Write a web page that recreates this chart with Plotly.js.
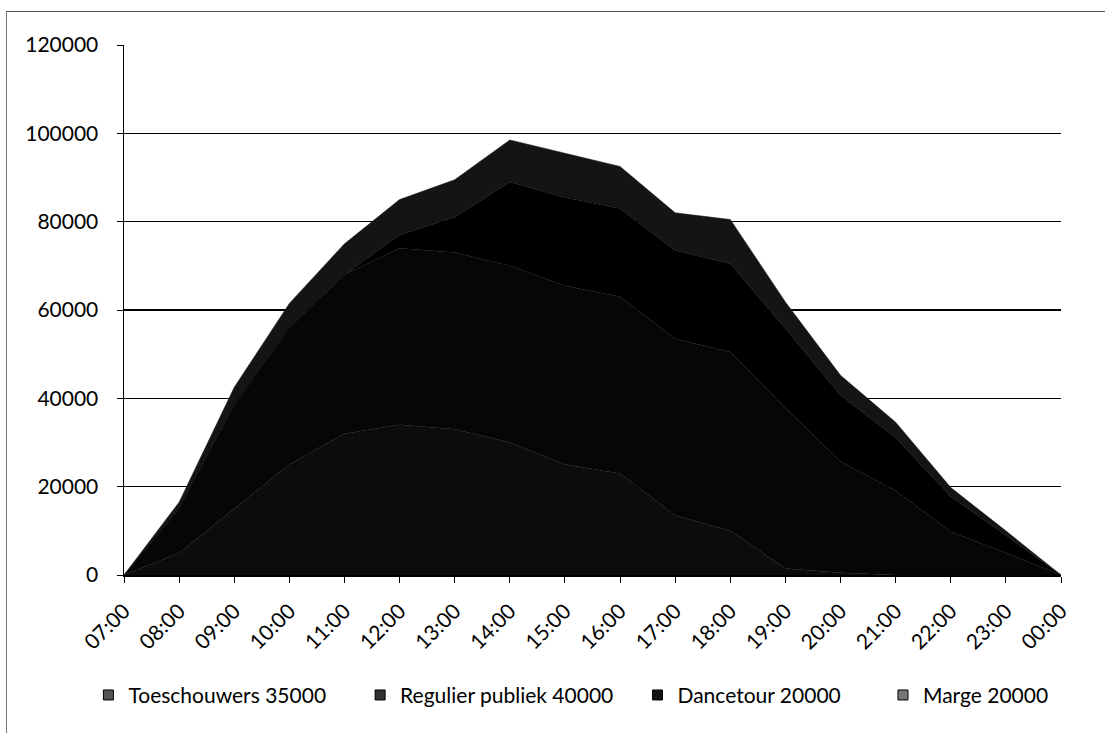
<!DOCTYPE html>
<html>
<head>
<meta charset="utf-8">
<script src="https://cdn.plot.ly/plotly-3.0.1.min.js"></script>
<style>
  html, body { margin: 0; padding: 0; background: #fff; }
  #wrap { position: relative; width: 1105px; height: 733px; }
  #chart { width: 1105px; height: 733px; }
  #frame { position: absolute; left: 6px; top: 11px; right: 0; bottom: 0;
           border-top: 1px solid #555; border-left: 1px solid #777; pointer-events: none; }
</style>
</head>
<body>
<div id="wrap">
  <div id="chart"></div>
  <div id="frame"></div>
</div>
<script>
const hours = ["07:00","08:00","09:00","10:00","11:00","12:00","13:00","14:00","15:00",
               "16:00","17:00","18:00","19:00","20:00","21:00","22:00","23:00","00:00"];
const toeschouwers = [0,5000,15000,25000,32000,34000,33000,30000,25000,23000,13500,10000,1500,500,0,0,0,0];
const regulierPubliek = [0,10000,23500,31000,36000,40000,40000,40000,40500,40000,40000,40500,36300,25200,19100,9800,5000,0];
const dancetour = [0,0,0,0,0,3000,8000,19000,20000,20000,20000,20000,18000,15000,12000,8000,4000,0];
const marge = [0,1500,4000,5500,7000,8000,8500,9500,10000,9500,8500,10000,6000,4500,3500,2000,1000,0];

const seriesNames = ["Toeschouwers 35000","Regulier publiek 40000","Dancetour 20000","Marge 20000"];
const seriesValues = [toeschouwers, regulierPubliek, dancetour, marge];
const seriesColors = ["#0c0c0c","#060606","#000000","#141414"];
const legendColors = ["#555555","#333333","#111111","#777777"];
const legendIds = ["legend","legend2","legend3","legend4"];
const legendX = [-0.038, 0.252, 0.548, 0.810];

const traces = seriesValues.map((vals, i) => ({
  type: "scatter",
  mode: "lines",
  x: hours,
  y: vals,
  name: seriesNames[i],
  stackgroup: "one",
  fillcolor: seriesColors[i],
  line: { color: seriesColors[i], width: 0.5 },
  showlegend: false,
  legendgroup: "g" + i
}));

// legend entries with small square keys, as in the reference
seriesNames.forEach((nm, i) => {
  traces.push({
    type: "scatter",
    mode: "markers",
    x: [null],
    y: [null],
    name: nm,
    legend: legendIds[i],
    legendgroup: "g" + i,
    marker: { symbol: "square", size: 10, color: legendColors[i], line: { color: "#000", width: 1 } },
    showlegend: true
  });
});

const fam = "Lato, 'Open Sans', sans-serif";
const font = { family: fam, size: 21, color: "#000" };

const layout = {
  width: 1105,
  height: 733,
  margin: { l: 124, r: 44, t: 45, b: 158 },
  paper_bgcolor: "#fff",
  plot_bgcolor: "#fff",
  font: font,
  showlegend: true,
  xaxis: {
    type: "category",
    range: [0, hours.length - 1],
    showgrid: false,
    showline: true,
    linecolor: "#000",
    linewidth: 1.5,
    ticks: "outside",
    ticklen: 6,
    tickcolor: "#000",
    tickangle: -45,
    tickfont: { family: fam, size: 21, color: "#000" },
    ticklabelstandoff: 8,
    zeroline: false
  },
  yaxis: {
    range: [0, 120000],
    dtick: 20000,
    showgrid: true,
    gridcolor: "#000",
    gridwidth: 1.5,
    showline: true,
    linecolor: "#000",
    linewidth: 1.5,
    ticks: "outside",
    ticklen: 6,
    tickcolor: "#000",
    tickformat: "d",
    tickfont: { family: fam, size: 21, color: "#000" },
    ticklabelstandoff: 14,
    zeroline: false
  }
};

legendIds.forEach((id, i) => {
  layout[id] = {
    orientation: "h",
    x: legendX[i], xanchor: "left",
    y: -0.227, yanchor: "middle",
    bgcolor: "rgba(0,0,0,0)",
    font: { family: fam, size: 21, color: "#000" },
    itemwidth: 30
  };
});

Plotly.newPlot("chart", traces, layout, { displayModeBar: false, staticPlot: true });
</script>
</body>
</html>
